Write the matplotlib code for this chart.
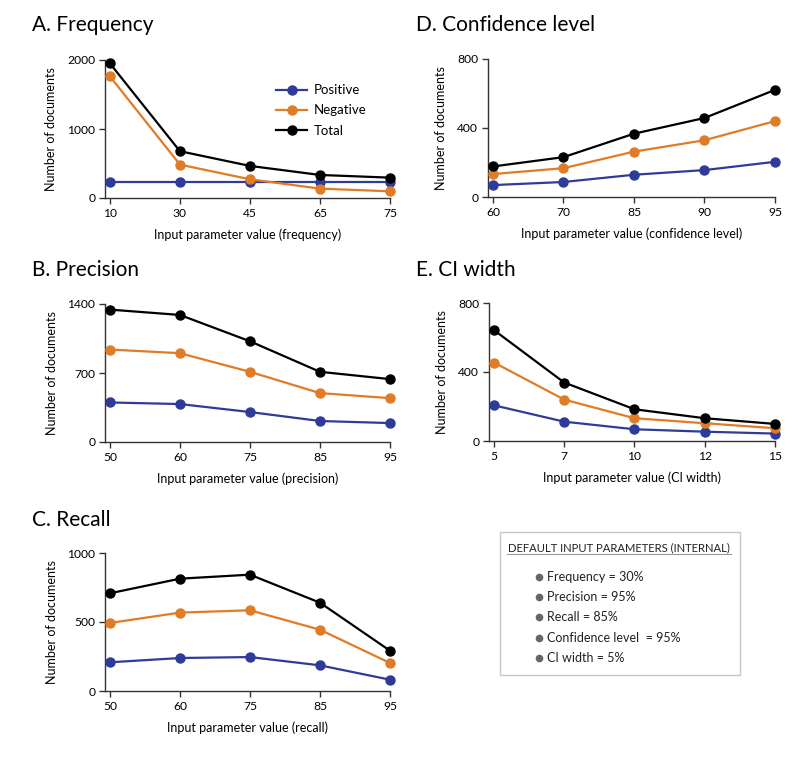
import matplotlib.pyplot as plt
from matplotlib.lines import Line2D
from matplotlib.patches import Rectangle

plt.rcParams['font.family'] = ['Lato', 'DejaVu Sans']

# ========================
# Data
# ========================
freq_x = ["10", "30", "45", "65", "75"]
freq_pos = [230, 230, 230, 230, 230]
freq_neg = [1763, 484, 271, 136, 97]
freq_tot = [1951, 678, 465, 334, 295]

prec_x = ["50", "60", "75", "85", "95"]
prec_pos = [401, 385, 304, 213, 192]
prec_neg = [938, 901, 712, 496, 445]
prec_tot = [1343, 1289, 1022, 712, 638]

rec_x = ["50", "60", "75", "85", "95"]
rec_pos = [208, 239, 246, 186, 82]
rec_neg = [493, 568, 585, 444, 203]
rec_tot = [708, 814, 843, 640, 292]

conf_x = ["60", "70", "85", "90", "95"]
conf_pos = [69, 87, 129, 156, 204]
conf_neg = [133, 167, 263, 329, 440]
conf_tot = [177, 231, 367, 458, 621]

ci_x = ["5", "7", "10", "12", "15"]
ci_pos = [207, 112, 68, 54, 43]
ci_neg = [455, 240, 132, 103, 74]
ci_tot = [643, 339, 184, 132, 99]

defaults = ["Frequency = 30%", "Precision = 95%", "Recall = 85%",
            "Confidence level  = 95%", "CI width = 5%"]

BLUE = "#2f3b98"
ORANGE = "#e07b26"
BLACK = "#000000"
AXC = "#333333"

W, H = 800, 769
fig = plt.figure(figsize=(W / 100, H / 100), dpi=100)


def rect(l, r, t, b):
    return [l / W, 1 - b / H, (r - l) / W, (b - t) / H]


def panel(box, title, title_xy, xs, pos, neg, tot, ymax, yticks, xlabel):
    ax = fig.add_axes(rect(*box))
    idx = list(range(len(xs)))
    for vals, c in [(pos, BLUE), (neg, ORANGE), (tot, BLACK)]:
        ax.plot(idx, vals, color=c, lw=1.6, marker="o", ms=6.5, clip_on=False, zorder=3)
    ax.set_xlim(-0.07, len(xs) - 1)
    ax.set_ylim(0, ymax)
    ax.set_xticks(idx)
    ax.set_xticklabels(xs)
    ax.set_yticks(yticks)
    for s in ["top", "right"]:
        ax.spines[s].set_visible(False)
    for s in ["left", "bottom"]:
        ax.spines[s].set_color(AXC)
        ax.spines[s].set_linewidth(1.0)
    ax.tick_params(direction="out", length=4, width=1, color=AXC, labelsize=8.7, pad=3)
    ax.set_ylabel("Number of documents", fontsize=9, labelpad=7)
    ax.set_xlabel(xlabel, fontsize=9, labelpad=7)
    fig.text(title_xy[0] / W, 1 - title_xy[1] / H, title, fontsize=15, va="center", ha="left")
    return ax


axA = panel((105, 390, 60, 198), "A. Frequency", (32, 25), freq_x, freq_pos, freq_neg,
            freq_tot, 2000, [0, 1000, 2000], "Input parameter value (frequency)")
panel((105, 390, 304, 442), "B. Precision", (32, 270), prec_x, prec_pos, prec_neg,
      prec_tot, 1400, [0, 700, 1400], "Input parameter value (precision)")
panel((105, 390, 553, 691), "C. Recall", (32, 520), rec_x, rec_pos, rec_neg,
      rec_tot, 1000, [0, 500, 1000], "Input parameter value (recall)")
panel((488, 775, 59, 197), "D. Confidence level", (416, 25), conf_x, conf_pos, conf_neg,
      conf_tot, 800, [0, 400, 800], "Input parameter value (confidence level)")
panel((489, 775, 303, 441), "E. CI width", (416, 270), ci_x, ci_pos, ci_neg,
      ci_tot, 800, [0, 400, 800], "Input parameter value (CI width)")

# legend in panel A
handles = [Line2D([], [], color=c, lw=1.6, marker="o", ms=6.5) for c in (BLUE, ORANGE, BLACK)]
axA.legend(handles, ["Positive", "Negative", "Total"], frameon=False, fontsize=9.5,
           loc="upper left", bbox_to_anchor=(0.56, 0.91), handlelength=2.3,
           handletextpad=0.5, labelspacing=0.62)

# default parameter box
fig.patches.append(Rectangle((500 / W, 1 - 675 / H), 240 / W, 143 / H,
                             transform=fig.transFigure, fill=False,
                             edgecolor="#c8c8c8", lw=1.0))
fig.text(508 / W, 1 - 551 / H, "DEFAULT INPUT PARAMETERS (INTERNAL)", fontsize=8.1,
         va="baseline", ha="left", color="#222222")
fig.add_artist(Line2D([507 / W, 731 / W], [1 - 554 / H, 1 - 554 / H],
                      color="#999999", lw=0.8, transform=fig.transFigure))
for i, txt in enumerate(defaults):
    y = 1 - (577 + i * 20.2) / H
    fig.add_artist(Line2D([539 / W], [y], marker="o", ms=4.5, color="#666666",
                          transform=fig.transFigure))
    fig.text(547 / W, y, txt, fontsize=9, va="center", ha="left", color="#222222")

plt.savefig("out.png", dpi=100)
